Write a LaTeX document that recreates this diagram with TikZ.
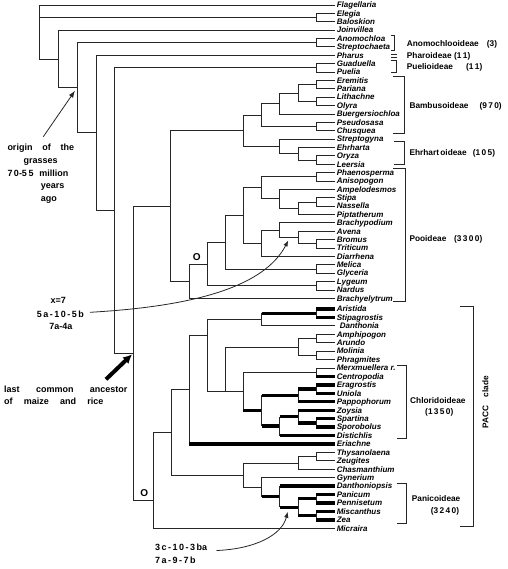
\documentclass[tikz,border=0pt]{standalone}
\usepackage{fontspec}
\setmainfont{Liberation Sans}
\usetikzlibrary{arrows.meta,calc}
\newcommand{\mkleaf}[3]{\coordinate (#1) at (335,#2); \node[taxon] (t#1) at (#1) {#3};}
\newcommand{\ed}[2]{\draw[br] (#1) |- (#2);}
\newcommand{\tke}[2]{\draw[br] (#1) -- (#1 |- #2); \draw[tkl] (#1 |- #2) -- (#2);}
\begin{document}
\begin{tikzpicture}[x=1pt,y=-1pt,
  br/.style={line width=0.8pt, draw=black!85},
  tkl/.style={line width=3.4pt, draw=black},
  bk/.style={line width=0.8pt, draw=black!85},
  taxon/.style={anchor=base west, inner sep=0pt, xshift=1.6pt, yshift=-2.8pt, font=\fontsize{8}{8}\selectfont\bfseries\itshape},
  grp/.style={anchor=base west, inner sep=0pt, yshift=-3pt, font=\fontsize{8.3}{9}\selectfont\bfseries},
  ann/.style={anchor=base west, inner sep=0pt, yshift=-3.2pt, font=\fontsize{9}{10}\selectfont\bfseries},
  onode/.style={inner sep=0pt, font=\fontsize{10}{10}\selectfont\bfseries}]
\useasboundingbox (0,0) rectangle (507,569);
% leaves
\mkleaf{flag}{5}{Flagellaria}
\mkleaf{eleg}{13.38}{Elegia}
\mkleaf{balo}{21.76}{Baloskion}
\mkleaf{join}{30.14}{Joinvillea}
\mkleaf{anom}{38.52}{Anomochloa}
\mkleaf{strp}{46.9}{Streptochaeta}
\mkleaf{phar}{55.28}{Pharus}
\mkleaf{guad}{63.66}{Guaduella}
\mkleaf{puel}{72.04}{Puelia}
\mkleaf{erem}{80.42}{Eremitis}
\mkleaf{pari}{88.8}{Pariana}
\mkleaf{lith}{97.18}{Lithachne}
\mkleaf{olyr}{105.56}{Olyra}
\mkleaf{buer}{113.94}{Buergersiochloa}
\mkleaf{pseu}{122.32}{Pseudosasa}
\mkleaf{chus}{130.7}{Chusquea}
\mkleaf{stgy}{139.08}{Streptogyna}
\mkleaf{ehrh}{147.46}{Ehrharta}
\mkleaf{oryz}{155.84}{Oryza}
\mkleaf{leer}{164.22}{Leersia}
\mkleaf{phae}{172.6}{Phaenosperma}
\mkleaf{anis}{180.98}{Anisopogon}
\mkleaf{ampe}{189.36}{Ampelodesmos}
\mkleaf{stip}{197.74}{Stipa}
\mkleaf{nass}{206.12}{Nassella}
\mkleaf{pipt}{214.5}{Piptatherum}
\mkleaf{brpo}{222.88}{Brachypodium}
\mkleaf{aven}{231.26}{Avena}
\mkleaf{brom}{239.64}{Bromus}
\mkleaf{trit}{248.02}{Triticum}
\mkleaf{diar}{256.4}{Diarrhena}
\mkleaf{meli}{264.78}{Melica}
\mkleaf{glyc}{273.16}{Glyceria}
\mkleaf{lyge}{281.54}{Lygeum}
\mkleaf{nard}{289.92}{Nardus}
\mkleaf{brel}{298.3}{Brachyelytrum}
\mkleaf{aris}{309}{Aristida}
\mkleaf{stgr}{317.44}{Stipagrostis}
\coordinate (dant) at (335,325.87); \node[taxon,xshift=3pt] (tdant) at (dant) {Danthonia};
\mkleaf{amph}{334.31}{Amphipogon}
\mkleaf{arun}{342.74}{Arundo}
\mkleaf{moli}{351.18}{Molinia}
\mkleaf{phra}{359.61}{Phragmites}
\mkleaf{merx}{368.05}{Merxmuellera r.}
\mkleaf{cent}{376.48}{Centropodia}
\mkleaf{erag}{384.92}{Eragrostis}
\mkleaf{unio}{393.35}{Uniola}
\mkleaf{papp}{401.79}{Pappophorum}
\mkleaf{zoys}{410.22}{Zoysia}
\mkleaf{spar}{418.66}{Spartina}
\mkleaf{spor}{427.09}{Sporobolus}
\mkleaf{dist}{435.53}{Distichlis}
\mkleaf{eria}{443.96}{Eriachne}
\mkleaf{thys}{452.4}{Thysanolaena}
\mkleaf{zeug}{460.83}{Zeugites}
\mkleaf{chas}{469.27}{Chasmanthium}
\mkleaf{gyne}{477.7}{Gynerium}
\mkleaf{dnps}{486.14}{Danthoniopsis}
\mkleaf{pani}{494.57}{Panicum}
\mkleaf{penn}{503.01}{Pennisetum}
\mkleaf{misc}{511.44}{Miscanthus}
\mkleaf{zea}{519.88}{Zea}
\mkleaf{micr}{528.31}{Micraira}
% internal nodes
\coordinate (eb) at (316,17.57);
\coordinate (ans) at (316,42.71);
\coordinate (gp) at (316,67.85);
\coordinate (ep) at (316,84.61);
\coordinate (lo) at (316,101.37);
\coordinate (b1) at (298,92.99);
\coordinate (b2) at (279.5,103.47);
\coordinate (pc) at (316,126.51);
\coordinate (bam) at (261.5,114.99);
\coordinate (ol) at (316,160.03);
\coordinate (e1) at (298,153.75);
\coordinate (ehr) at (279.5,146.41);
\coordinate (be) at (243,130.7);
\coordinate (pa) at (316,176.79);
\coordinate (sn) at (316,201.93);
\coordinate (u3) at (298,208.22);
\coordinate (u2) at (279.5,198.79);
\coordinate (u1) at (261.5,187.79);
\coordinate (bt) at (316,243.83);
\coordinate (l3) at (298,237.55);
\coordinate (l2) at (279.5,230.21);
\coordinate (l1) at (261.5,243.31);
\coordinate (p3) at (243,215.55);
\coordinate (mg) at (316,268.97);
\coordinate (p2) at (225,242.26);
\coordinate (ln) at (316,285.73);
\coordinate (p1) at (207,264.0);
\coordinate (poo) at (189,281.15);
\coordinate (bep) at (170,205.92);
\coordinate (as) at (316,313.22);
\coordinate (ari) at (261.5,319.55);
\coordinate (aa) at (316,338.53);
\coordinate (mp) at (316,355.4);
\coordinate (aru) at (298,346.96);
\coordinate (mc) at (316,372.27);
\coordinate (eu) at (316,389.14);
\coordinate (epp) at (298,395.46);
\coordinate (ss) at (316,422.88);
\coordinate (zs) at (298,416.55);
\coordinate (zd) at (279.5,426.04);
\coordinate (cc) at (261.5,410.75);
\coordinate (chl) at (243,391.51);
\coordinate (a225) at (225,391.51);
\coordinate (p207) at (207,335.7);
\coordinate (p189) at (189,389.8);
\coordinate (tz) at (316,456.62);
\coordinate (cen) at (298,462.94);
\coordinate (pm) at (316,498.79);
\coordinate (mz) at (316,515.66);
\coordinate (pn3) at (298,507.23);
\coordinate (pn2) at (279.5,496.68);
\coordinate (pn1) at (261.5,487.19);
\coordinate (p244) at (243,475.07);
\coordinate (p171) at (171,432.4);
\coordinate (pacc) at (153.3,500);
\coordinate (n5) at (133.5,352.96);
\coordinate (n4) at (114,210.4);
\coordinate (n3) at (96,132.84);
\coordinate (n2) at (77,87.78);
\coordinate (n1) at (58,58.96);
\coordinate (r0) at (39.3,30);
% edges
\ed{r0}{flag}\ed{r0}{eb}\ed{r0}{n1}
\ed{eb}{eleg}\ed{eb}{balo}
\ed{n1}{join}\ed{n1}{n2}
\ed{n2}{ans}\ed{n2}{n3}
\ed{ans}{anom}\ed{ans}{strp}
\ed{n3}{phar}\ed{n3}{n4}
\ed{n4}{gp}\ed{n4}{n5}
\ed{gp}{guad}\ed{gp}{puel}
\ed{n5}{bep}\ed{n5}{pacc}
\ed{bep}{be}\ed{bep}{poo}
\ed{be}{bam}\ed{be}{ehr}
\ed{bam}{b2}\ed{bam}{pc}
\ed{b2}{b1}\ed{b2}{buer}
\ed{b1}{ep}\ed{b1}{lo}
\ed{ep}{erem}\ed{ep}{pari}
\ed{lo}{lith}\ed{lo}{olyr}
\ed{pc}{pseu}\ed{pc}{chus}
\ed{ehr}{stgy}\ed{ehr}{e1}
\ed{e1}{ehrh}\ed{e1}{ol}
\ed{ol}{oryz}\ed{ol}{leer}
\ed{poo}{p1}\ed{poo}{brel}
\ed{p1}{p2}\ed{p1}{ln}
\ed{ln}{lyge}\ed{ln}{nard}
\ed{p2}{p3}\ed{p2}{mg}
\ed{mg}{meli}\ed{mg}{glyc}
\ed{p3}{u1}\ed{p3}{l1}
\ed{u1}{pa}\ed{u1}{u2}
\ed{pa}{phae}\ed{pa}{anis}
\ed{u2}{ampe}\ed{u2}{u3}
\ed{u3}{sn}\ed{u3}{pipt}
\ed{sn}{stip}\ed{sn}{nass}
\ed{l1}{l2}\ed{l1}{diar}
\ed{l2}{brpo}\ed{l2}{l3}
\ed{l3}{aven}\ed{l3}{bt}
\ed{bt}{brom}\ed{bt}{trit}
% PACC
\ed{pacc}{p171}\ed{pacc}{micr}
\ed{p171}{p189}\ed{p171}{p244}
\ed{p189}{p207}\tke{p189}{eria}
\ed{p207}{ari}\ed{p207}{a225}
\tke{ari}{as}\ed{ari}{dant}
\tke{as}{aris}\tke{as}{stgr}
\ed{a225}{aru}\ed{a225}{chl}
\ed{aru}{aa}\ed{aru}{mp}
\ed{aa}{amph}\ed{aa}{arun}
\ed{mp}{moli}\ed{mp}{phra}
\ed{chl}{mc}\tke{chl}{cc}
\ed{mc}{merx}\tke{mc}{cent}
\tke{cc}{epp}\tke{cc}{zd}
\tke{epp}{eu}\tke{epp}{papp}
\tke{eu}{erag}\tke{eu}{unio}
\tke{zd}{zs}\tke{zd}{dist}
\tke{zs}{zoys}\tke{zs}{ss}
\tke{ss}{spar}\tke{ss}{spor}
\ed{p244}{cen}\ed{p244}{pn1}
\ed{cen}{tz}\ed{cen}{chas}
\ed{tz}{thys}\ed{tz}{zeug}
\ed{pn1}{gyne}\tke{pn1}{pn2}
\tke{pn2}{dnps}\tke{pn2}{pn3}
\tke{pn3}{pm}\tke{pn3}{mz}
\tke{pm}{pani}\tke{pm}{penn}
\tke{mz}{misc}\tke{mz}{zea}
% O marks
\node[onode] (o1) at (196.7,256.7) {O};
\node[onode] (o2) at (144.3,492.7) {O};
% brackets
\draw[bk] (390.7,35) -- (394.5,35) -- (394.5,50.5) -- (390.7,50.5);
\draw[bk] (390.7,54.8) -- (397,54.8) (390.7,57.8) -- (397,57.8);
\draw[bk] (390.7,60.7) -- (396.7,60.7) -- (396.7,72.5) -- (390.7,72.5);
\draw[bk] (392.7,76.7) -- (404,76.7) -- (404,133.3) -- (392.7,133.3);
\draw[bk] (394,141.7) -- (404.3,141.7) -- (404.3,164.5) -- (394,164.5);
\draw[bk] (393.3,168.3) -- (405.5,168.3) -- (405.5,301.7) -- (393.3,301.7);
\draw[bk] (396.7,365) -- (406,365) -- (406,438.3) -- (396.7,438.3);
\draw[bk] (396.7,483.3) -- (406,483.3) -- (406,523.3) -- (396.7,523.3);
\draw[bk] (460,306.7) -- (473.3,306.7) -- (473.3,526.7) -- (460,526.7);
% group labels
\node[grp] (g1) at (406.7,43.3) {Anomochlooideae};
\node[grp] (g1n) at (486.7,43.3) {(3)};
\node[grp] (g2) at (406.7,56) {Pharoideae};
\node[grp] (g2n) at (454,56) {(1\,1)};
\node[grp] (g3) at (406.7,66.7) {Puelioideae};
\node[grp] (g3n) at (466,66.7) {(1\,1)};
\node[grp] (g4) at (409.3,105.3) {Bambusoideae};
\node[grp] (g4n) at (479.3,105.3) {(9\,7\,0)};
\node[grp] (g5) at (409.3,152.7) {Ehrhart\,oideae};
\node[grp] (g5n) at (472.7,152.7) {(1\,0\,5)};
\node[grp] (g6) at (409.3,238.3) {Pooideae};
\node[grp] (g6n) at (454,238.3) {(3\,3\,0\,0)};
\node[grp] (g7) at (410,400) {Chloridoideae};
\node[grp,anchor=base] (g7n) at (439.3,411.7) {(1\,3\,5\,0)};
\node[grp] (g8) at (411.7,498.3) {Panicoideae};
\node[grp,anchor=base] (g8n) at (445,510) {(3\,2\,4\,0)};
\node[grp,rotate=90,anchor=center,yshift=0pt] (g9) at (485.5,399) {PACC\quad clade};
% left annotations
\node[ann] (a1) at (7.3,147.3) {\makebox[66.7pt][s]{origin of the}};
\node[ann,anchor=base] (a2) at (40.7,160) {grasses};
\node[ann] (a3) at (7.3,173.3) {\makebox[61pt][s]{7\,0-5\,5 million}};
\node[ann] (a4) at (40.7,185.7) {years};
\node[ann] (a5) at (40.7,198.3) {ago};
\coordinate (origtail) at (43.3,136.7);
\draw[br,-{Latex[length=7pt,width=5pt]},shorten >=3.5pt] (origtail) -- (n2);
\node[ann,anchor=base] (x1) at (58.3,300.7) {x=7};
\node[ann,anchor=base] (x2) at (60.3,314) {5\,a\,-\,1\,0\,-\,5\,b};
\node[ann,anchor=base] (x3) at (60.8,326.7) {7a-4a};
\coordinate (xtail) at (90,312.3);
\coordinate (xtip) at (288.3,240.5);
\draw[br,-{Latex[length=6pt,width=4.5pt]}] (xtail) .. controls (200,306) and (265,285) .. (xtip);
\node[ann] (c1) at (4,389) {\makebox[123.3pt][s]{last common ancestor}};
\node[ann] (c2) at (4,401.7) {\makebox[99.3pt][s]{of maize and rice}};
\coordinate (lcatail) at (106,379.3);
\draw[line width=4pt,-{Latex[length=9pt,width=9pt]},shorten >=2pt] (lcatail) -- (n5);
\node[ann] (d1) at (155,547.7) {3\,c\,-\,1\,0\,-\,3\,ba};
\node[ann] (d2) at (155,560) {7\,a\,-\,9\,-\,7\,b};
\coordinate (dtail) at (216.5,550.5);
\coordinate (dtip) at (287.7,511.7);
\draw[br,-{Latex[length=6pt,width=4.5pt]}] (dtail) .. controls (255,549) and (282,535) .. (dtip);
\end{tikzpicture}
\end{document}
